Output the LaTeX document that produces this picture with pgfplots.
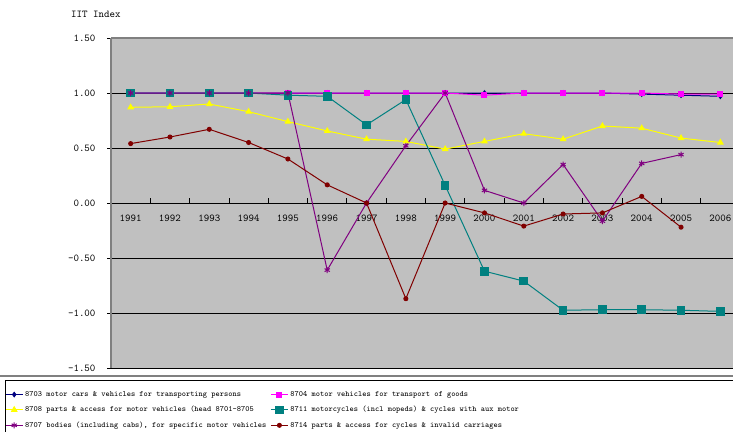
\documentclass[border=0pt]{standalone}
\usepackage{pgfplots}
\pgfplotsset{compat=1.18}
\usepackage{fontspec}
\definecolor{cA}{HTML}{000080}
\definecolor{cB}{HTML}{FF00FF}
\definecolor{cC}{HTML}{FFFF00}
\definecolor{cD}{HTML}{008080}
\definecolor{cE}{HTML}{800080}
\definecolor{cF}{HTML}{800000}
\definecolor{bg}{HTML}{C0C0C0}
\definecolor{frame}{HTML}{808080}
\begin{document}
\begin{tikzpicture}[x=1bp,y=1bp]
\useasboundingbox (0,0) rectangle (733,431);
\node[anchor=west,font=\ttfamily\fontsize{10.5}{12}\selectfont,inner sep=0] at (71,417) {IIT Index};
\begin{axis}[
  name=ax,
  at={(111bp,63bp)}, anchor=south west,
  scale only axis, width=629bp, height=330bp,
  xmin=-0.5, xmax=15.5, ymin=-1.5, ymax=1.5,
  axis x line*=middle, axis y line*=left,
  axis background/.style={fill=bg},
  xtick={0,...,15},
  xticklabels={1991,1992,1993,1994,1995,1996,1997,1998,1999,2000,2001,2002,2003,2004,2005,2006},
  minor xtick={0.5,1.5,...,14.5},
  every major x tick/.append style={draw=none},
  xtick align=inside,
  minor tick length=5bp,
  ytick={-1.5,-1,...,1.5},
  ytick align=outside,
  major tick length=4bp,
  /pgf/number format/assume math mode=true,
  ticklabel style={font=\ttfamily\fontsize{10.5}{12}\selectfont},
  xticklabel style={yshift=-8bp},
  yticklabel style={/pgf/number format/fixed,/pgf/number format/fixed zerofill,/pgf/number format/precision=2,xshift=-8bp},
  ymajorgrids,
  grid style={black,line width=0.8bp},
  x axis line style={black,line width=1bp},
  y axis line style={frame,line width=2.5bp},
  tick style={black,line width=0.8bp},
  legend columns=2,
  legend cell align=left,
  legend style={at={(axis description cs:-0.1685,-0.064)},anchor=north west,draw=none,fill=none,
    font=\ttfamily\fontsize{8}{9}\selectfont,row sep=4.5bp,inner sep=0pt,
    /tikz/every even column/.append style={column sep=2bp}},
  legend image post style={line width=1bp},
  every axis plot/.append style={line width=1bp},
  after end axis/.code={
    \draw[frame,line width=2.5bp] (rel axis cs:0,1) -- (rel axis cs:1,1);
  },
]
\addplot[cA,mark=diamond*,mark size=2.2bp] coordinates {(0,1)(1,1)(2,1)(3,1)(4,1)(5,1)(6,1)(7,1)(8,1)(9,1)(10,1)(11,1)(12,1)(13,0.99)(14,0.98)(15,0.97)};
\addlegendentry{8703 motor cars \& vehicles for transporting persons}
\addplot[cB,mark=square*,mark size=2.5bp] coordinates {(0,1)(1,1)(2,1)(3,1)(4,1)(5,1)(6,1)(7,1)(8,1)(9,0.98)(10,1)(11,1)(12,1)(13,1)(14,0.99)(15,0.99)};
\addlegendentry{8704 motor vehicles for transport of goods}
\addplot[cC,mark=triangle*,mark size=3bp] coordinates {(0,0.87)(1,0.875)(2,0.90)(3,0.83)(4,0.74)(5,0.655)(6,0.58)(7,0.56)(8,0.49)(9,0.56)(10,0.63)(11,0.58)(12,0.70)(13,0.68)(14,0.59)(15,0.55)};
\addlegendentry{8708 parts \& access for motor vehicles (head 8701-8705}
\addplot[cD,mark=square*,mark size=3.8bp] coordinates {(0,1)(1,1)(2,1)(3,1)(4,0.98)(5,0.97)(6,0.71)(7,0.94)(8,0.16)(9,-0.62)(10,-0.71)(11,-0.975)(12,-0.97)(13,-0.97)(14,-0.975)(15,-0.985)};
\addlegendentry{8711 motorcycles (incl mopeds) \& cycles with aux motor}
\addplot[cE,mark=asterisk,mark size=3bp] coordinates {(0,1)(1,1)(2,1)(3,1)(4,1)(5,-0.61)(6,0.0)(7,0.52)(8,1.0)(9,0.115)(10,0.0)(11,0.35)(12,-0.165)(13,0.36)(14,0.44)};
\addlegendentry{8707 bodies (including cabs), for specific motor vehicles}
\addplot[cF,mark=*,mark size=2bp] coordinates {(0,0.54)(1,0.60)(2,0.67)(3,0.55)(4,0.40)(5,0.165)(6,0.0)(7,-0.87)(8,0.0)(9,-0.09)(10,-0.21)(11,-0.10)(12,-0.09)(13,0.06)(14,-0.22)};
\addlegendentry{8714 parts \& access for cycles \& invalid carriages}
\end{axis}
\draw[frame,line width=2bp] (0,55) -- (740,55);
\draw[black,line width=0.8bp] (5,-5) rectangle (740,51);
\end{tikzpicture}
\end{document}
